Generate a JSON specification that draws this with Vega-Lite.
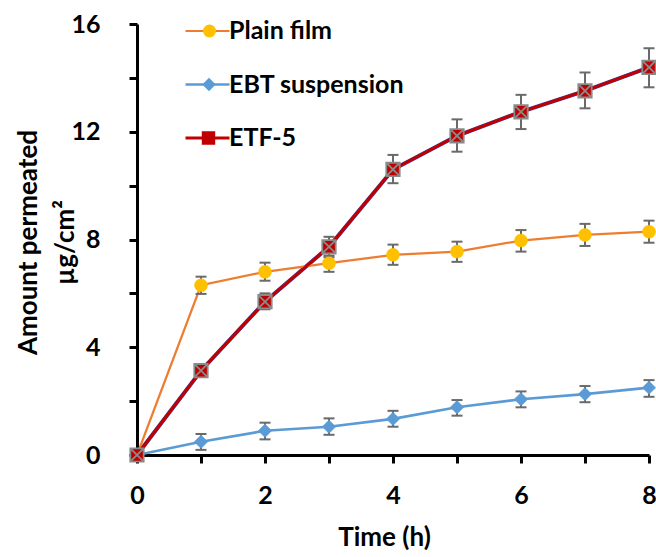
{
  "$schema": "https://vega.github.io/schema/vega-lite/v6.json",
  "width": 512,
  "height": 431,
  "autosize": "none",
  "padding": {"left": 137, "top": 24, "right": 7, "bottom": 102},
  "background": "white",
  "config": {
    "view": {"stroke": null},
    "font": "Lato",
    "axis": {
      "grid": false,
      "domainColor": "black",
      "domainWidth": 3,
      "tickColor": "black",
      "tickWidth": 3,
      "tickSize": 8,
      "labelFont": "Lato",
      "labelFontSize": 25,
      "labelFontWeight": "bold",
      "labelColor": "black",
      "labelFlush": false,
      "labelOverlap": false,
      "titleFont": "Lato",
      "titleFontSize": 26,
      "titleFontWeight": "bold",
      "titleColor": "black"
    },
    "legend": {
      "title": null,
      "labelFont": "Lato",
      "labelFontSize": 25,
      "labelFontWeight": "bold",
      "labelOffset": 9,
      "rowPadding": 27.5,
      "labelLimit": 400
    }
  },
  "data": {
    "values": [
      {"series": "Plain film", "t": 0, "mean": 0, "lo": 0, "hi": 0},
      {"series": "Plain film", "t": 1, "mean": 6.30, "lo": 5.98, "hi": 6.62},
      {"series": "Plain film", "t": 2, "mean": 6.80, "lo": 6.47, "hi": 7.14},
      {"series": "Plain film", "t": 3, "mean": 7.12, "lo": 6.80, "hi": 7.40},
      {"series": "Plain film", "t": 4, "mean": 7.43, "lo": 7.06, "hi": 7.81},
      {"series": "Plain film", "t": 5, "mean": 7.55, "lo": 7.17, "hi": 7.92},
      {"series": "Plain film", "t": 6, "mean": 7.96, "lo": 7.55, "hi": 8.35},
      {"series": "Plain film", "t": 7, "mean": 8.17, "lo": 7.76, "hi": 8.58},
      {"series": "Plain film", "t": 8, "mean": 8.29, "lo": 7.88, "hi": 8.70},
      {"series": "EBT suspension", "t": 0, "mean": 0, "lo": 0, "hi": 0},
      {"series": "EBT suspension", "t": 1, "mean": 0.49, "lo": 0.19, "hi": 0.78},
      {"series": "EBT suspension", "t": 2, "mean": 0.90, "lo": 0.58, "hi": 1.20},
      {"series": "EBT suspension", "t": 3, "mean": 1.05, "lo": 0.75, "hi": 1.36},
      {"series": "EBT suspension", "t": 4, "mean": 1.34, "lo": 1.05, "hi": 1.64},
      {"series": "EBT suspension", "t": 5, "mean": 1.77, "lo": 1.46, "hi": 2.04},
      {"series": "EBT suspension", "t": 6, "mean": 2.07, "lo": 1.77, "hi": 2.36},
      {"series": "EBT suspension", "t": 7, "mean": 2.26, "lo": 1.96, "hi": 2.56},
      {"series": "EBT suspension", "t": 8, "mean": 2.50, "lo": 2.16, "hi": 2.78},
      {"series": "ETF-5", "t": 0, "mean": 0, "lo": 0, "hi": 0},
      {"series": "ETF-5", "t": 1, "mean": 3.13, "lo": 3.00, "hi": 3.26},
      {"series": "ETF-5", "t": 2, "mean": 5.69, "lo": 5.41, "hi": 6.00},
      {"series": "ETF-5", "t": 3, "mean": 7.73, "lo": 7.34, "hi": 8.10},
      {"series": "ETF-5", "t": 4, "mean": 10.60, "lo": 10.09, "hi": 11.14},
      {"series": "ETF-5", "t": 5, "mean": 11.85, "lo": 11.26, "hi": 12.46},
      {"series": "ETF-5", "t": 6, "mean": 12.74, "lo": 12.10, "hi": 13.37},
      {"series": "ETF-5", "t": 7, "mean": 13.52, "lo": 12.87, "hi": 14.20},
      {"series": "ETF-5", "t": 8, "mean": 14.39, "lo": 13.65, "hi": 15.10}
    ]
  },
  "encoding": {
    "x": {
      "field": "t",
      "type": "quantitative",
      "scale": {"domain": [0, 8], "nice": false},
      "axis": {
        "title": "Time (h)",
        "values": [0, 1, 2, 3, 4, 5, 6, 7, 8],
        "labelExpr": "datum.value % 2 === 0 ? datum.label : ''",
        "labelPadding": 20,
        "titleX": 247,
        "titleY": 90,
        "titleAlign": "center",
        "titleBaseline": "alphabetic"
      }
    },
    "y": {
      "field": "mean",
      "type": "quantitative",
      "scale": {"domain": [0, 16], "nice": false},
      "axis": {
        "title": ["Amount permeated", "µg/cm²"],
        "values": [0, 2, 4, 6, 8, 10, 12, 14, 16],
        "labelExpr": "datum.value % 4 === 0 ? datum.label : ''",
        "labelPadding": 29,
        "titleAngle": -90,
        "titleX": -101,
        "titleY": 218,
        "titleAlign": "center",
        "titleBaseline": "alphabetic",
        "titleLineHeight": 37
      }
    }
  },
  "layer": [
    {
      "transform": [{"filter": "datum.series == 'ETF-5'"}],
      "mark": {"type": "line", "stroke": "#3c3c96", "strokeWidth": 4}
    },
    {
      "mark": {"type": "line"},
      "encoding": {
        "color": {
          "field": "series",
          "type": "nominal",
          "scale": {"domain": ["Plain film", "EBT suspension", "ETF-5"], "range": ["#ED7D31", "#5B9BD5", "#C00000"]},
          "legend": {
            "orient": "none",
            "legendX": 58,
            "legendY": -5.5,
            "symbolType": "M-3,0H3",
            "symbolSize": 215,
            "symbolStrokeWidth": 2.5,
            "labelColor": "black"
          }
        },
        "strokeWidth": {
          "field": "series",
          "type": "nominal",
          "scale": {"domain": ["Plain film", "EBT suspension", "ETF-5"], "range": [2.2, 3, 2.6]},
          "legend": null
        }
      }
    },
    {
      "transform": [{"filter": "datum.t > 0"}],
      "mark": {"type": "rule", "color": "#6a6a6a", "strokeWidth": 2},
      "encoding": {
        "y": {"field": "lo", "type": "quantitative"},
        "y2": {"field": "hi"}
      }
    },
    {
      "transform": [{"filter": "datum.t > 0"}],
      "mark": {"type": "tick", "orient": "horizontal", "color": "#6a6a6a", "size": 11, "thickness": 2, "opacity": 1},
      "encoding": {"y": {"field": "lo", "type": "quantitative"}}
    },
    {
      "transform": [{"filter": "datum.t > 0"}],
      "mark": {"type": "tick", "orient": "horizontal", "color": "#6a6a6a", "size": 11, "thickness": 2, "opacity": 1},
      "encoding": {"y": {"field": "hi", "type": "quantitative"}}
    },
    {
      "transform": [{"filter": "datum.series === 'Plain film'"}],
      "mark": {"type": "point", "shape": "circle", "filled": true, "fill": "#FFC000", "stroke": "#FFC000", "strokeWidth": 0.5, "opacity": 1},
      "encoding": {
        "size": {
          "field": "series",
          "type": "nominal",
          "scale": {"range": [169, 169]},
          "legend": {
            "orient": "none",
            "legendX": 60,
            "legendY": -5.5,
            "symbolType": "circle",
            "symbolFillColor": "#FFC000",
            "symbolStrokeColor": "#FFC000",
            "symbolStrokeWidth": 0.5,
            "labelColor": "transparent"
          }
        }
      }
    },
    {
      "transform": [{"filter": "datum.series === 'EBT suspension'"}],
      "mark": {"type": "point", "filled": true, "fill": "#5B9BD5", "stroke": "#5B9BD5", "strokeWidth": 0.5, "size": 180, "opacity": 1},
      "encoding": {
        "shape": {
          "field": "series",
          "type": "nominal",
          "scale": {"range": ["diamond", "diamond"]},
          "legend": {
            "orient": "none",
            "legendX": 59.5,
            "legendY": 48,
            "symbolSize": 180,
            "symbolFillColor": "#5B9BD5",
            "symbolStrokeColor": "#5B9BD5",
            "symbolStrokeWidth": 0.5,
            "labelColor": "transparent"
          }
        }
      }
    },
    {
      "transform": [{"filter": "datum.series === 'ETF-5'"}],
      "mark": {"type": "point", "shape": "M-1,-1H1V1H-1ZM-1,-1L1,1M-1,1L1,-1", "filled": true, "fill": "#C00000", "stroke": "#8a8a8a", "strokeWidth": 1.8, "size": 180, "opacity": 1},
      "encoding": {
        "opacity": {
          "field": "series",
          "type": "nominal",
          "scale": {"range": [1, 1]},
          "legend": {
            "orient": "none",
            "legendX": 59,
            "legendY": 101.5,
            "symbolType": "M-1,-1H1V1H-1ZM-1,-1L1,1M-1,1L1,-1",
            "symbolSize": 180,
            "symbolFillColor": "#C00000",
            "symbolStrokeColor": "#8a8a8a",
            "symbolStrokeWidth": 1.8,
            "labelColor": "transparent"
          }
        }
      }
    }
  ]
}
